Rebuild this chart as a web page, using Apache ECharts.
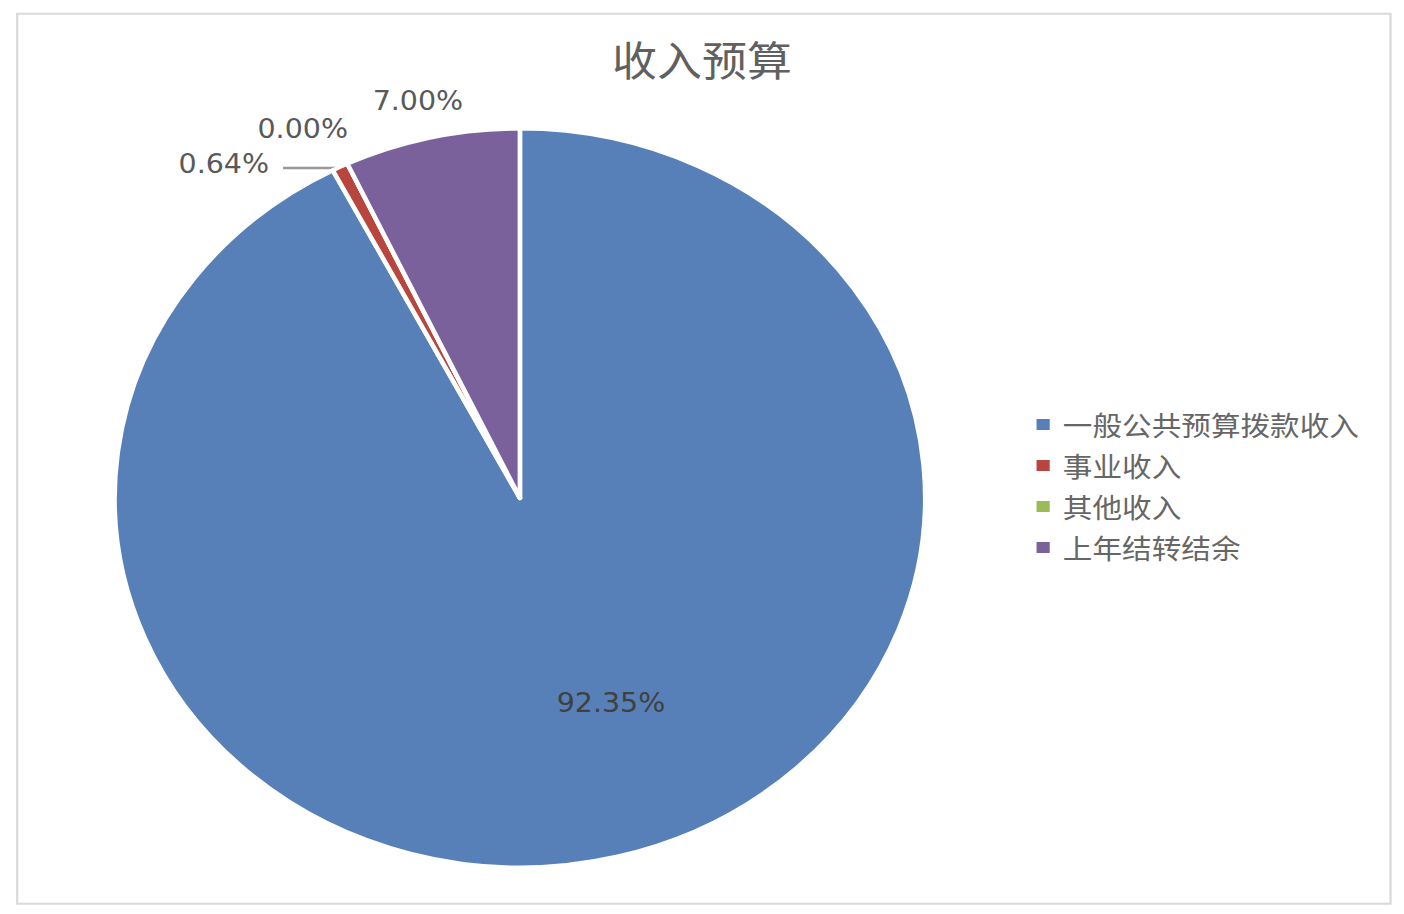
<!DOCTYPE html>
<html>
<head>
<meta charset="utf-8">
<script src="https://cdn.jsdelivr.net/npm/echarts@6/dist/echarts.min.js"></script>
<style>
html,body{margin:0;padding:0;background:#fff;overflow:hidden;}
#c{width:1280px;height:914px;transform:scaleX(1.096875);transform-origin:0 0;}
</style>
</head>
<body>
<div id="c"></div>
<script>
// ---- data ----
const titleText = '收入预算';
const categories = ['一般公共预算拨款收入', '事业收入', '其他收入', '上年结转结余'];
const shares = [92.35, 0.64, 0.00, 7.00];
const colors = ['#5780b8', '#b8463f', '#9bbb59', '#7b619c'];

// ---- layout (kept apart from data) ----
const labelSpots = [[557, 703], [204, 164], [276, 129], [381, 101]];
const leaderLine = [[309, 168], [280, 168], [258, 168]];

const chart = echarts.init(document.getElementById('c'), null, { renderer: 'svg' });

const pieData = categories.map((name, i) => ({
  name: name,
  value: shares[i],
  itemStyle: { color: colors[i] },
  label: i === 0
    ? { position: 'inside', color: '#404040' }
    : { position: 'outside', color: '#595959' },
  labelLine: { show: i === 1 }
}));

chart.setOption({
  animation: false,
  backgroundColor: '#fff',
  title: {
    text: titleText,
    left: 'center',
    top: 37,
    padding: 0,
    textStyle: {
      fontFamily: '"Noto Sans CJK SC", sans-serif',
      fontSize: 41,
      fontWeight: 'normal',
      color: '#606060'
    }
  },
  legend: {
    orient: 'vertical',
    left: 943,
    top: 404,
    padding: 0,
    itemGap: 0,
    itemWidth: 14,
    itemHeight: 13,
    icon: 'rect',
    data: categories,
    textStyle: {
      fontFamily: '"Noto Sans CJK SC", sans-serif',
      fontSize: 27,
      lineHeight: 41,
      color: '#666666',
      padding: [0, 0, 0, 6]
    }
  },
  graphic: [{
    type: 'rect',
    silent: true,
    shape: { x: 15.7, y: 13.7, width: 1252, height: 890 },
    style: { fill: 'none', stroke: '#d9d9d9', lineWidth: 2 }
  }],
  series: [{
    type: 'pie',
    center: [474, 498],
    radius: 369.5,
    startAngle: 90,
    clockwise: true,
    avoidLabelOverlap: false,
    minShowLabelAngle: 0,
    itemStyle: { borderColor: '#fff', borderWidth: 4.2 },
    label: {
      show: true,
      fontFamily: '"DejaVu Sans", Verdana, sans-serif',
      fontSize: 26,
      formatter: p => p.value.toFixed(2) + '%'
    },
    labelLine: {
      show: true,
      lineStyle: { color: '#999999', width: 2.5, opacity: 1 }
    },
    labelLayout: function (params) {
      const s = labelSpots[params.dataIndex];
      const o = { x: s[0], y: s[1], align: 'center', verticalAlign: 'middle' };
      if (params.dataIndex === 1) o.labelLinePoints = leaderLine;
      return o;
    },
    emphasis: { disabled: true },
    data: pieData
  }]
});
</script>
</body>
</html>
